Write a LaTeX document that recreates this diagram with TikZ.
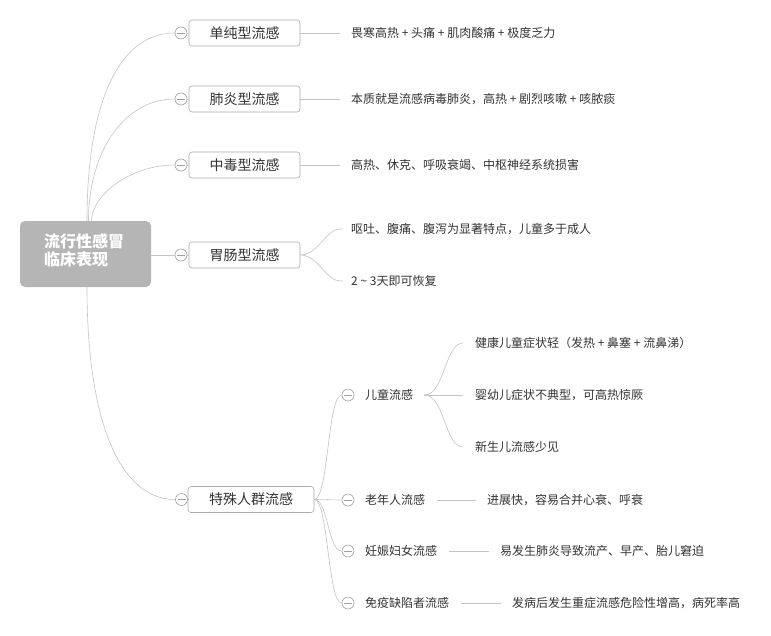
\documentclass[tikz,border=0pt]{standalone}
\usepackage{fontspec}
\newfontfamily\cjk{Noto Sans CJK SC}
\definecolor{linec}{HTML}{C4C4C4}
\definecolor{boxc}{HTML}{ABABAB}
\definecolor{circc}{HTML}{A0A0A0}
\definecolor{txt}{HTML}{333333}
\definecolor{rootc}{HTML}{B5B5B5}
\begin{document}
\begin{tikzpicture}[x=1pt,y=-1pt,
  conn/.style={draw=linec, line width=0.6pt},
  box/.style={draw=boxc, rounded corners=3pt, fill=white, minimum width=111pt, minimum height=26pt, inner sep=0pt, line width=0.6pt, font=\cjk\fontsize{14}{16}\selectfont, text=txt},
  leaf/.style={anchor=west, inner sep=0pt, font=\cjk\fontsize{12}{14}\selectfont, text=txt},
  mid/.style={anchor=west, inner sep=0pt, font=\cjk\fontsize{12}{14}\selectfont, text=txt},
  circ/.style={circle, draw=circc, fill=white, minimum size=12pt, inner sep=0pt, line width=0.6pt,
    path picture={\draw[circc, line width=0.6pt] ([xshift=-4pt]path picture bounding box.center) -- ([xshift=4pt]path picture bounding box.center);}},
  rootbox/.style={fill=rootc, rounded corners=5pt, minimum width=131pt, minimum height=66pt, inner sep=0pt, text=white, font=\cjk\bfseries\fontsize{16}{18}\selectfont}
]
\path[use as bounding box] (0,0) rectangle (771,635);
\fill[white] (0,0) rectangle (771,635);

% root
\node[rootbox] (root) at (85.5,254) {};
\node[anchor=west, inner sep=0pt, align=left, text=white, font=\cjk\bfseries\fontsize{16}{18}\selectfont] (roottext) at (44,250) {流行性感冒\\临床表现};

% level 1
\node[box] (b1) at (244.5,33) {单纯型流感};
\node[box] (b2) at (244.5,99) {肺炎型流感};
\node[box] (b3) at (244.5,165) {中毒型流感};
\node[box] (b4) at (244.5,255) {胃肠型流感};
\node[box, minimum width=126pt] (b5) at (251,499.5) {特殊人群流感};

\node[circ] (c1) at (181,33) {};
\node[circ] (c2) at (181,99) {};
\node[circ] (c3) at (181,165) {};
\node[circ] (c4) at (181,255) {};
\node[circ] (c5) at (181.5,499.5) {};

% root connectors
\draw[conn] ([xshift=1.5pt]root.north) .. controls +(0,-120) and +(-55,0) .. (c1.west);
\draw[conn] ([xshift=3pt]root.north) .. controls +(0,-70) and +(-50,0) .. (c2.west);
\draw[conn] ([xshift=6pt]root.north) .. controls +(0,-25) and +(-45,0) .. (c3.west);
\draw[conn] (root.east |- c4) -- (c4.west);
\draw[conn] ([xshift=1.5pt]root.south) .. controls +(0,135) and +(-55,0) .. (c5.west);
\draw[conn] (c1.east) -- (b1.west);
\draw[conn] (c2.east) -- (b2.west);
\draw[conn] (c3.east) -- (b3.west);
\draw[conn] (c4.east) -- (b4.west);
\draw[conn] (c5.east) -- (b5.west);

% leaves of level 1
\node[leaf] (l1) at (351,33) {畏寒高热 + 头痛 + 肌肉酸痛 + 极度乏力};
\node[leaf] (l2) at (351,99) {本质就是流感病毒肺炎，高热 + 剧烈咳嗽 + 咳脓痰};
\node[leaf] (l3) at (351,165) {高热、休克、呼吸衰竭、中枢神经系统损害};
\node[leaf] (l4a) at (351,229) {呕吐、腹痛、腹泻为显著特点，儿童多于成人};
\node[leaf] (l4b) at (351,281) {2 \textasciitilde{} 3天即可恢复};

\draw[conn] (b1.east) -- ([xshift=-11pt]l1.west);
\draw[conn] (b2.east) -- ([xshift=-11pt]l2.west);
\draw[conn] (b3.east) -- ([xshift=-11pt]l3.west);
\draw[conn] (b4.east) .. controls +(18,0) and +(-14,0) .. ([xshift=-11pt]l4a.west) -- ([xshift=-8pt]l4a.west);
\draw[conn] (b4.east) .. controls +(18,0) and +(-14,0) .. ([xshift=-11pt]l4b.west) -- ([xshift=-8pt]l4b.west);

% special groups
\node[circ] (d1) at (348,395) {};
\node[circ] (d2) at (348,500) {};
\node[circ] (d3) at (348,551) {};
\node[circ] (d4) at (348,603) {};
\node[mid] (m1) at (365,395) {儿童流感};
\node[mid] (m2) at (365,500) {老年人流感};
\node[mid] (m3) at (365,551) {妊娠妇女流感};
\node[mid] (m4) at (365,603) {免疫缺陷者流感};

\draw[conn] (b5.east) .. controls +(14,0) and +(-14,0) .. (d1.west);
\draw[conn] (b5.east) -- (d2.west);
\draw[conn] (b5.east) .. controls +(14,0) and +(-14,0) .. (d3.west);
\draw[conn] (b5.east) .. controls +(14,0) and +(-14,0) .. (d4.west);

% children leaves
\node[leaf] (k1) at (475,343) {健康儿童症状轻（发热 + 鼻塞 + 流鼻涕）};
\node[leaf] (k2) at (475,395) {婴幼儿症状不典型，可高热惊厥};
\node[leaf] (k3) at (475,447) {新生儿流感少见};
\draw[conn] ([xshift=11pt]m1.east) .. controls +(20,0) and +(-18,0) .. ([xshift=-12pt]k1.west);
\draw[conn] ([xshift=11pt]m1.east) -- ([xshift=-12pt]k2.west);
\draw[conn] ([xshift=11pt]m1.east) .. controls +(20,0) and +(-18,0) .. ([xshift=-12pt]k3.west);

\node[leaf] (e2) at (487,500) {进展快，容易合并心衰、呼衰};
\node[leaf] (e3) at (500,551) {易发生肺炎导致流产、早产、胎儿窘迫};
\node[leaf] (e4) at (512,603) {发病后发生重症流感危险性增高，病死率高};
\draw[conn] ([xshift=12pt]m2.east) -- ([xshift=-11pt]e2.west);
\draw[conn] ([xshift=12pt]m3.east) -- ([xshift=-11pt]e3.west);
\draw[conn] ([xshift=12pt]m4.east) -- ([xshift=-11pt]e4.west);
\end{tikzpicture}
\end{document}
